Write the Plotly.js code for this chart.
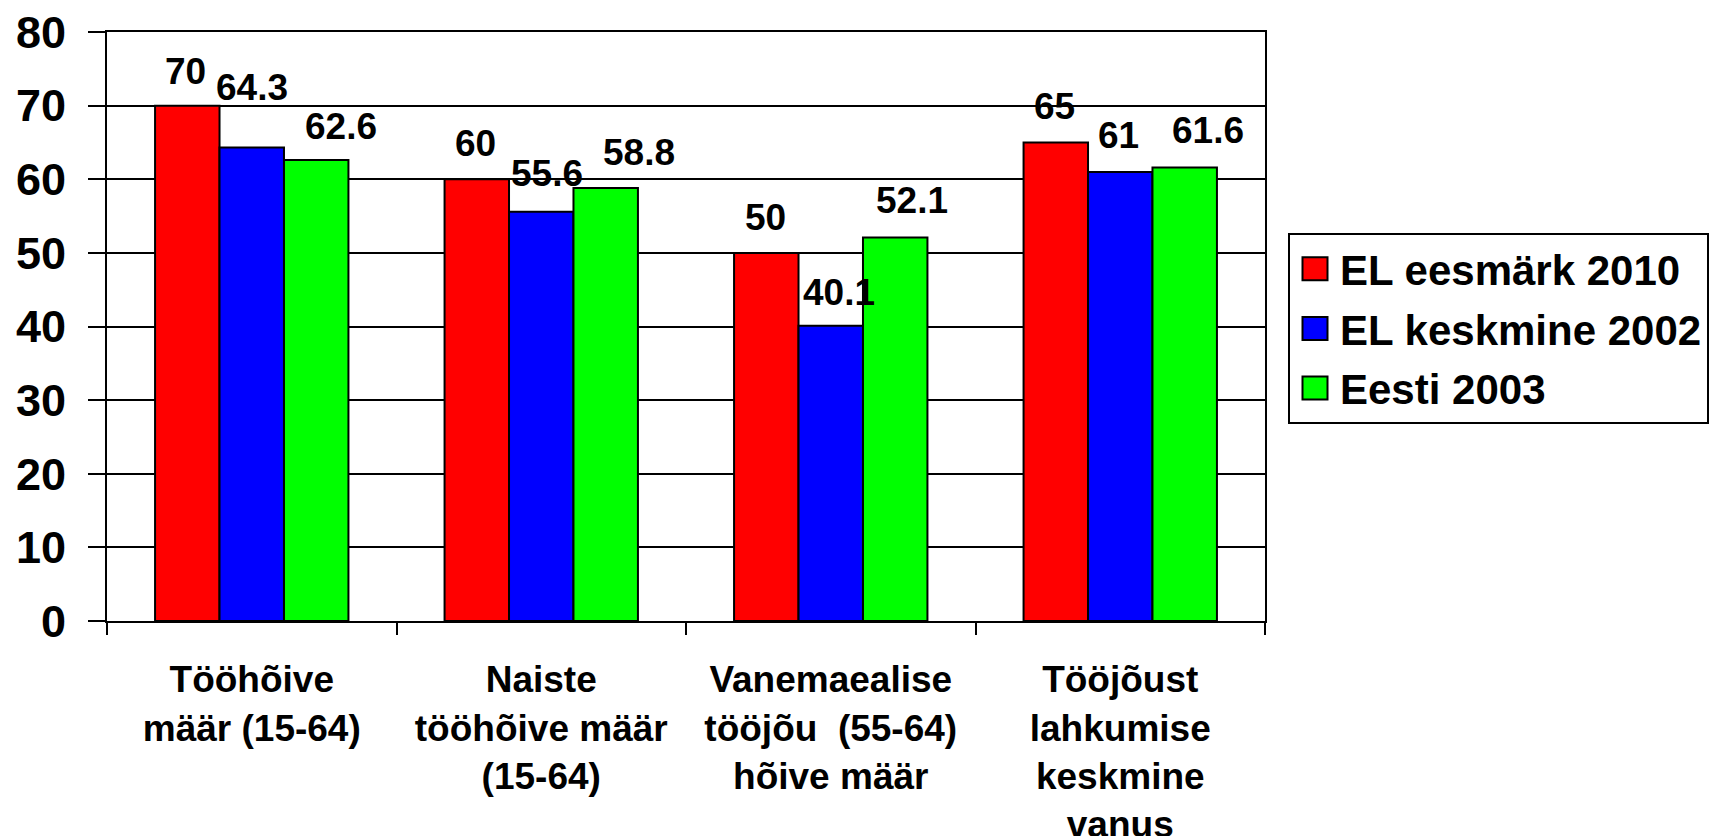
<!DOCTYPE html>
<html>
<head>
<meta charset="utf-8">
<script src="https://cdn.plot.ly/plotly-3.0.1.min.js"></script>
<style>html,body{margin:0;padding:0;background:#fff;}</style>
</head>
<body>
<div id="chart" style="width:1715px;height:836px;"></div>
<script>
// ---- data ----
const categories = [
  "Tööhõive<br>määr (15-64)",
  "Naiste<br>tööhõive määr<br>(15-64)",
  "Vanemaealise<br>tööjõu  (55-64)<br>hõive määr",
  "Tööjõust<br>lahkumise<br>keskmine<br>vanus"
];
const seriesNames = ["EL eesmärk 2010", "EL keskmine 2002", "Eesti 2003"];
const elTarget2010 = [70, 60, 50, 65];
const elAverage2002 = [64.3, 55.6, 40.1, 61];
const estonia2003 = [62.6, 58.8, 52.1, 61.6];
const yTicks = [0, 10, 20, 30, 40, 50, 60, 70, 80];

// ---- styles / label placement (pixel offsets, not data) ----
const colors = ["#FF0000", "#0000FF", "#00FF00"];
const labelDy = [[24, 25, 25, 25], [50, 28, 23, 26], [23, 25, 26, 26]];
const labelDx = [[-2, -1, -1, -1], [0, 6, 8, -2], [25, 33, 17, 23]];

const FONT = "Liberation Sans, Arial, Helvetica, sans-serif";
const seriesValues = [elTarget2010, elAverage2002, estonia2003];

const W = 1715, H = 836;
const margin = {l: 107, r: 450, t: 32, b: 215};
const bargap = 0.332;
const plotW = W - margin.l - margin.r;
const catW = plotW / categories.length;
const barW = catW * (1 - bargap) / seriesNames.length;

const traces = seriesNames.map((name, i) => ({
  type: "bar",
  name: name,
  legendgroup: "g" + i,
  x: categories,
  y: seriesValues[i],
  marker: {color: colors[i], line: {color: "#000", width: 2}},
  hoverinfo: "x+y+name"
}));

const annotations = [];
seriesValues.forEach((vals, i) => {
  vals.forEach((v, j) => {
    annotations.push({
      xref: "x", yref: "y",
      x: categories[j], y: v,
      text: String(v),
      showarrow: false,
      xanchor: "center", yanchor: "bottom",
      xshift: (i - 1) * barW + labelDx[i][j],
      yshift: labelDy[i][j] - 12,
      font: {family: FONT, size: 37, color: "#000", weight: 700}
    });
  });
});

const layout = {
  width: W, height: H,
  margin: margin,
  paper_bgcolor: "#fff",
  plot_bgcolor: "#fff",
  barmode: "group",
  bargap: bargap,
  bargroupgap: 0,
  font: {family: FONT, color: "#000", weight: 700},
  showlegend: true,
  legend: {
    xref: "container", yref: "container",
    x: 1288 / W, y: 1 - 233 / H,
    xanchor: "left", yanchor: "top",
    bordercolor: "#000", borderwidth: 2,
    bgcolor: "#fff",
    itemwidth: 40,
    font: {family: FONT, size: 42, color: "#000", weight: 700},
    tracegroupgap: 2
  },
  xaxis: {
    type: "category",
    showline: true, linecolor: "#000", linewidth: 2,
    mirror: true,
    ticks: "outside", tickson: "boundaries", ticklen: 12, tickwidth: 2, tickcolor: "#000",
    tickfont: {family: FONT, size: 37, color: "#000", weight: 700},
    ticklabelstandoff: 25,
    showgrid: false, zeroline: false, automargin: false
  },
  yaxis: {
    range: [0, 80],
    tickmode: "array", tickvals: yTicks, ticktext: yTicks.map(String),
    showline: true, linecolor: "#000", linewidth: 2,
    mirror: true,
    ticks: "outside", ticklen: 17, tickwidth: 2, tickcolor: "#000",
    tickfont: {family: FONT, size: 45, color: "#000", weight: 700},
    ticklabelstandoff: 13,
    showgrid: true, gridcolor: "#000", gridwidth: 2,
    zeroline: false, automargin: false, fixedrange: true
  },
  annotations: annotations
};

Plotly.newPlot("chart", traces, layout, {displayModeBar: false, staticPlot: true}).then(() => {
  // enlarge legend swatches to match the reference
  document.querySelectorAll(".legend .legendpoints path").forEach(p => {
    p.setAttribute("d", "M12.5,11.5H-12.5V-11.5H12.5Z");
  });
});
</script>
</body>
</html>
